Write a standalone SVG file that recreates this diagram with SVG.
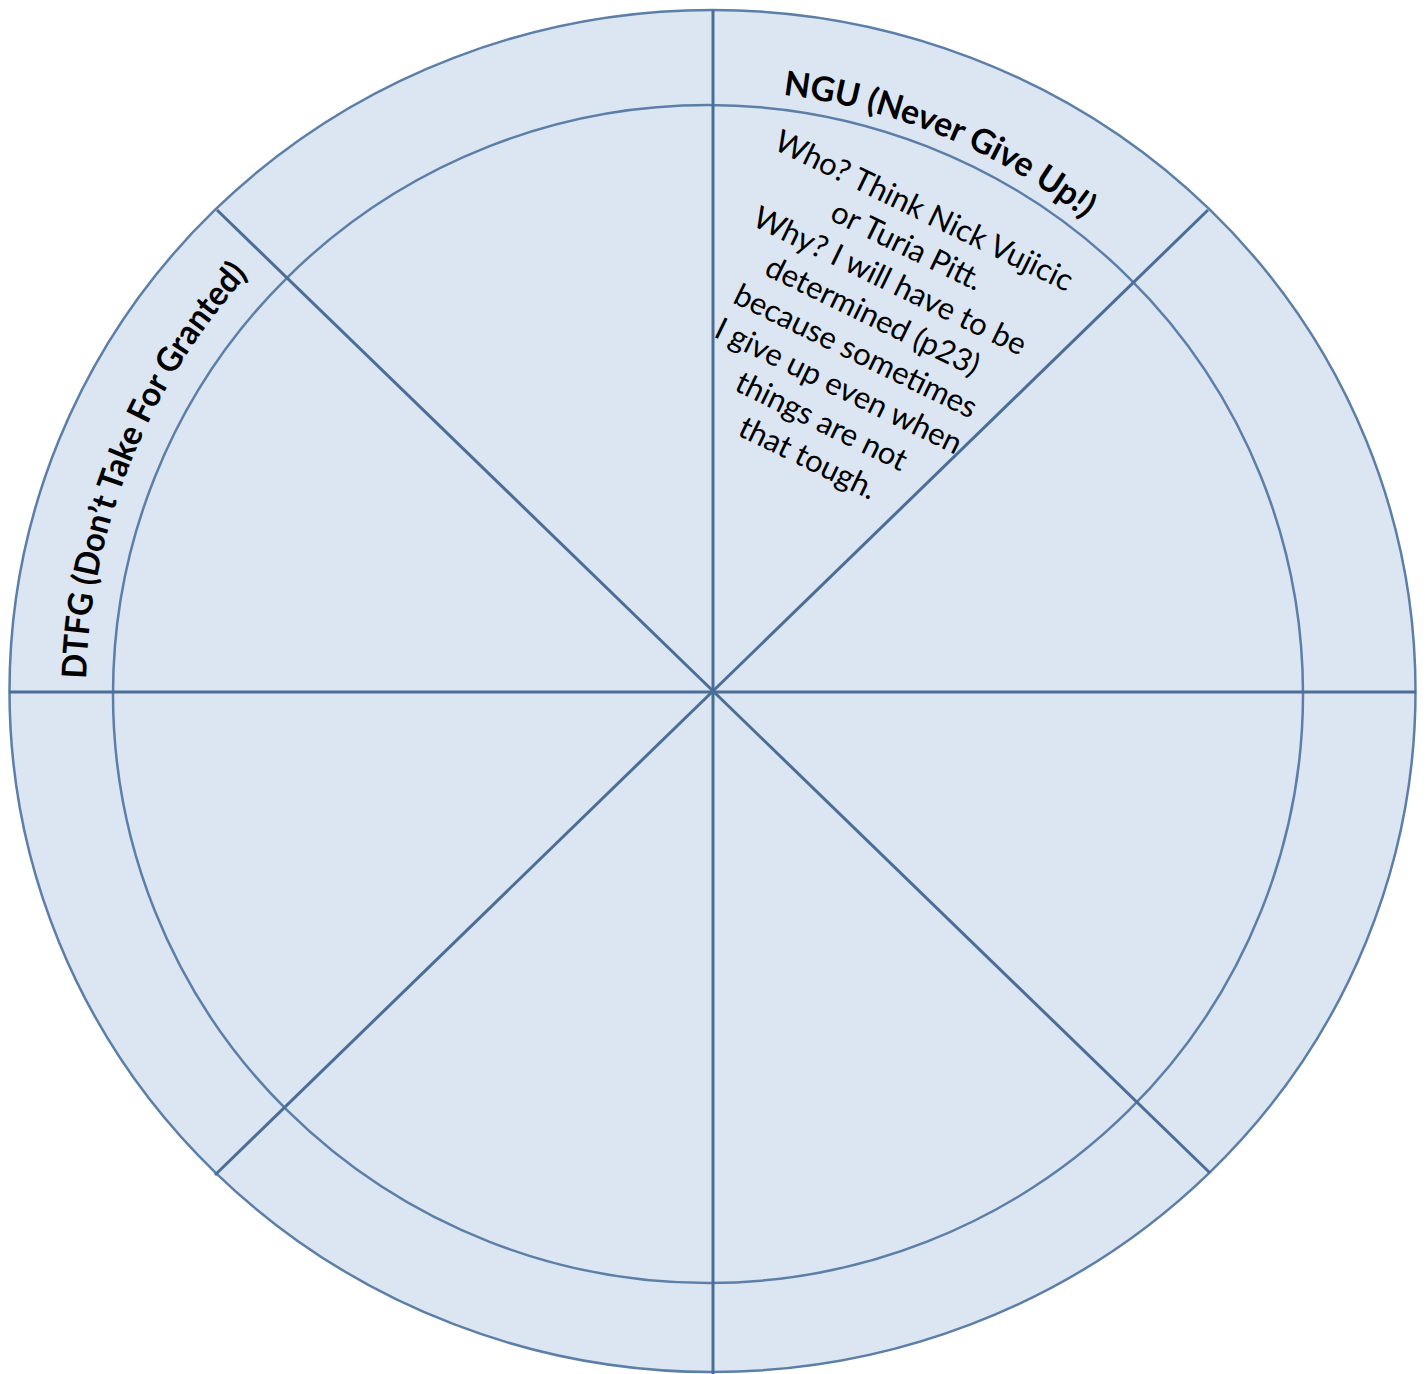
<svg xmlns="http://www.w3.org/2000/svg" width="1428" height="1374" viewBox="0 0 1428 1374">
<style>
.ring{fill:#dce6f2;stroke:#5b7fa8;stroke-width:2.5}
.inner{fill:none;stroke:#5b7fa8;stroke-width:2.5}
.conn line{stroke:#4a6e98;stroke-width:3}
.title{font-family:Lato,"Open Sans","Liberation Sans",sans-serif;font-weight:bold;font-size:34px;fill:#000}
.body{font-family:Lato,"Open Sans","Liberation Sans",sans-serif;font-size:31px;fill:#000;text-anchor:middle}
</style>
<defs>
<path id="ngu-arc" d="M 783 95 A 602 602 0 0 1 1110 240"/>
<path id="dtfg-arc" d="M 86 679 A 627 627 0 0 1 262 260"/>
</defs>
<rect width="1428" height="1374" fill="#ffffff"/>
<g id="wheel">
<ellipse class="ring" cx="712.5" cy="691" rx="703" ry="681"/>
<ellipse class="inner" cx="708" cy="694" rx="595" ry="589"/>
</g>
<g id="connectors" class="conn">
<line x1="713" y1="10" x2="713" y2="1374"/>
<line x1="9" y1="692" x2="1416" y2="692"/>
<line x1="217" y1="210" x2="1210" y2="1173"/>
<line x1="1208" y1="210" x2="215" y2="1175"/>
</g>
<g id="ngu">
<text class="title"><textPath href="#ngu-arc" textLength="330" lengthAdjust="spacingAndGlyphs">NGU (Never Give Up!)</textPath></text>
</g>
<g id="dtfg">
<text class="title"><textPath href="#dtfg-arc" textLength="445" lengthAdjust="spacingAndGlyphs">DTFG (Don’t Take For Granted)</textPath></text>
</g>
<g id="ngu-body" transform="translate(923,222) rotate(26)">
<text class="body">
<tspan x="0" y="0">Who? Think Nick Vujicic</tspan>
<tspan x="0" y="39">or Turia Pitt.</tspan>
<tspan x="0" y="78">Why? I will have to be</tspan>
<tspan x="0" y="117">determined (p23)</tspan>
<tspan x="0" y="156">because sometimes</tspan>
<tspan x="0" y="195">I give up even when</tspan>
<tspan x="0" y="234">things are not</tspan>
<tspan x="0" y="273">that tough.</tspan>
</text>
</g>
</svg>
